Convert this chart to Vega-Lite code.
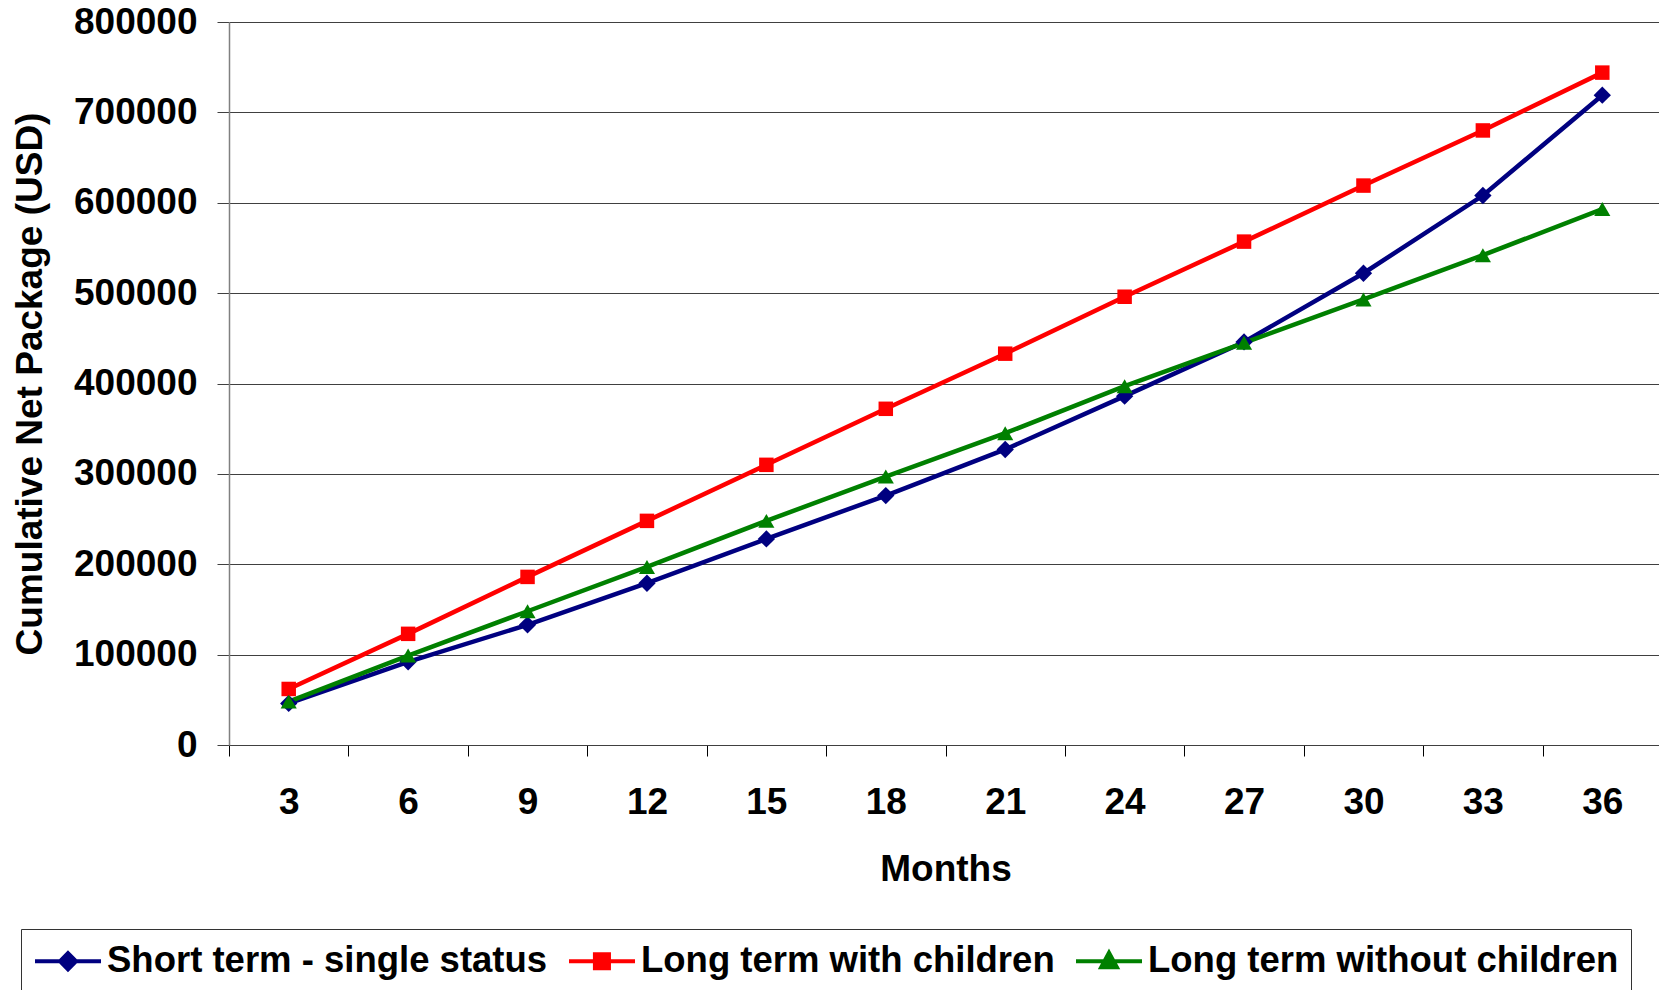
{
  "$schema": "https://vega.github.io/schema/vega-lite/v6.json",
  "autosize": {"type": "none"},
  "padding": {"left": 229, "top": 22, "right": 0, "bottom": 245},
  "width": 1433,
  "height": 723,
  "background": "white",
  "config": {
    "view": {"stroke": null},
    "font": "Liberation Sans",
    "axis": {"labelFont": "Liberation Sans", "titleFont": "Liberation Sans", "labelFontWeight": "bold", "titleFontWeight": "bold", "labelFontSize": 37, "titleFontSize": 37, "labelColor": "#000", "titleColor": "#000"}
  },
  "data": {"values": [
    {"Months": 3, "series": "Short term - single status", "value": 46000},
    {"Months": 6, "series": "Short term - single status", "value": 92000},
    {"Months": 9, "series": "Short term - single status", "value": 133000},
    {"Months": 12, "series": "Short term - single status", "value": 179000},
    {"Months": 15, "series": "Short term - single status", "value": 228000},
    {"Months": 18, "series": "Short term - single status", "value": 276000},
    {"Months": 21, "series": "Short term - single status", "value": 327000},
    {"Months": 24, "series": "Short term - single status", "value": 386000},
    {"Months": 27, "series": "Short term - single status", "value": 446000},
    {"Months": 30, "series": "Short term - single status", "value": 522000},
    {"Months": 33, "series": "Short term - single status", "value": 608000},
    {"Months": 36, "series": "Short term - single status", "value": 719000},
    {"Months": 3, "series": "Long term with children", "value": 62000},
    {"Months": 6, "series": "Long term with children", "value": 123000},
    {"Months": 9, "series": "Long term with children", "value": 186000},
    {"Months": 12, "series": "Long term with children", "value": 248000},
    {"Months": 15, "series": "Long term with children", "value": 310000},
    {"Months": 18, "series": "Long term with children", "value": 372000},
    {"Months": 21, "series": "Long term with children", "value": 433000},
    {"Months": 24, "series": "Long term with children", "value": 496000},
    {"Months": 27, "series": "Long term with children", "value": 557000},
    {"Months": 30, "series": "Long term with children", "value": 619000},
    {"Months": 33, "series": "Long term with children", "value": 680000},
    {"Months": 36, "series": "Long term with children", "value": 744000},
    {"Months": 3, "series": "Long term without children", "value": 48000},
    {"Months": 6, "series": "Long term without children", "value": 99000},
    {"Months": 9, "series": "Long term without children", "value": 148000},
    {"Months": 12, "series": "Long term without children", "value": 197000},
    {"Months": 15, "series": "Long term without children", "value": 248000},
    {"Months": 18, "series": "Long term without children", "value": 297000},
    {"Months": 21, "series": "Long term without children", "value": 345000},
    {"Months": 24, "series": "Long term without children", "value": 397000},
    {"Months": 27, "series": "Long term without children", "value": 445000},
    {"Months": 30, "series": "Long term without children", "value": 493000},
    {"Months": 33, "series": "Long term without children", "value": 542000},
    {"Months": 36, "series": "Long term without children", "value": 593000}
  ]},
  "encoding": {
    "x": {
      "field": "Months", "type": "ordinal",
      "scale": {"type": "band", "paddingInner": 0, "paddingOuter": 0},
      "axis": {"title": "Months", "labelAngle": 0, "tickBand": "extent", "tickSize": 11, "tickColor": "#000", "domain": true, "domainColor": "#404040", "labelPadding": 28, "titlePadding": 31, "grid": false}
    },
    "y": {
      "field": "value", "type": "quantitative",
      "scale": {"domain": [0, 800000], "nice": false},
      "axis": {"title": "Cumulative Net Package (USD)", "values": [0, 100000, 200000, 300000, 400000, 500000, 600000, 700000, 800000], "format": "d", "grid": true, "gridColor": "#404040", "gridWidth": 1, "gridOpacity": 1, "tickSize": 12, "tickColor": "#404040", "domainColor": "#808080", "domainWidth": 1.5, "labelPadding": 20, "titlePadding": 24}
    }
  },
  "layer": [
    {
      "mark": {"type": "line", "strokeWidth": 4.5},
      "encoding": {
        "color": {
          "field": "series", "type": "nominal",
          "scale": {"domain": ["Short term - single status", "Long term with children", "Long term without children"], "range": ["#000080", "#FF0000", "#008000"]},
          "legend": {
            "orient": "none", "legendX": -208, "legendY": 907, "direction": "horizontal", "title": null,
            "strokeColor": "#333", "padding": 12, "symbolSize": 1296, "symbolStrokeWidth": 4,
            "labelFontSize": 36.5, "labelFont": "Liberation Sans", "labelFontWeight": "bold", "labelColor": "#000",
            "labelOffset": 34, "columnPadding": 13, "labelLimit": 0,
            "encode": {"symbols": {"update": {
              "shape": {"signal": "datum.value === 'Short term - single status' ? 'M-1,0H2.667M0.833,-0.45L1.28,0L0.833,0.45L0.39,0Z' : (datum.value === 'Long term with children' ? 'M-1,0H2.667M0.44,-0.39H1.22V0.39H0.44Z' : 'M-1,0H2.667M0.833,-0.47L1.27,0.33H0.4Z')"},
              "fill": {"scale": "color", "field": "value"},
              "fillOpacity": {"value": 1}
            }}}
          }
        }
      }
    },
    {
      "transform": [{"filter": "datum.series === 'Short term - single status'"}],
      "mark": {"type": "point", "shape": "diamond", "filled": true, "opacity": 1, "size": 300, "color": "#000080"}
    },
    {
      "transform": [{"filter": "datum.series === 'Long term with children'"}],
      "mark": {"type": "point", "shape": "square", "filled": true, "opacity": 1, "size": 210, "color": "#FF0000"}
    },
    {
      "transform": [{"filter": "datum.series === 'Long term without children'"}],
      "mark": {"type": "point", "shape": "triangle-up", "filled": true, "opacity": 1, "size": 260, "color": "#008000"}
    }
  ]
}
